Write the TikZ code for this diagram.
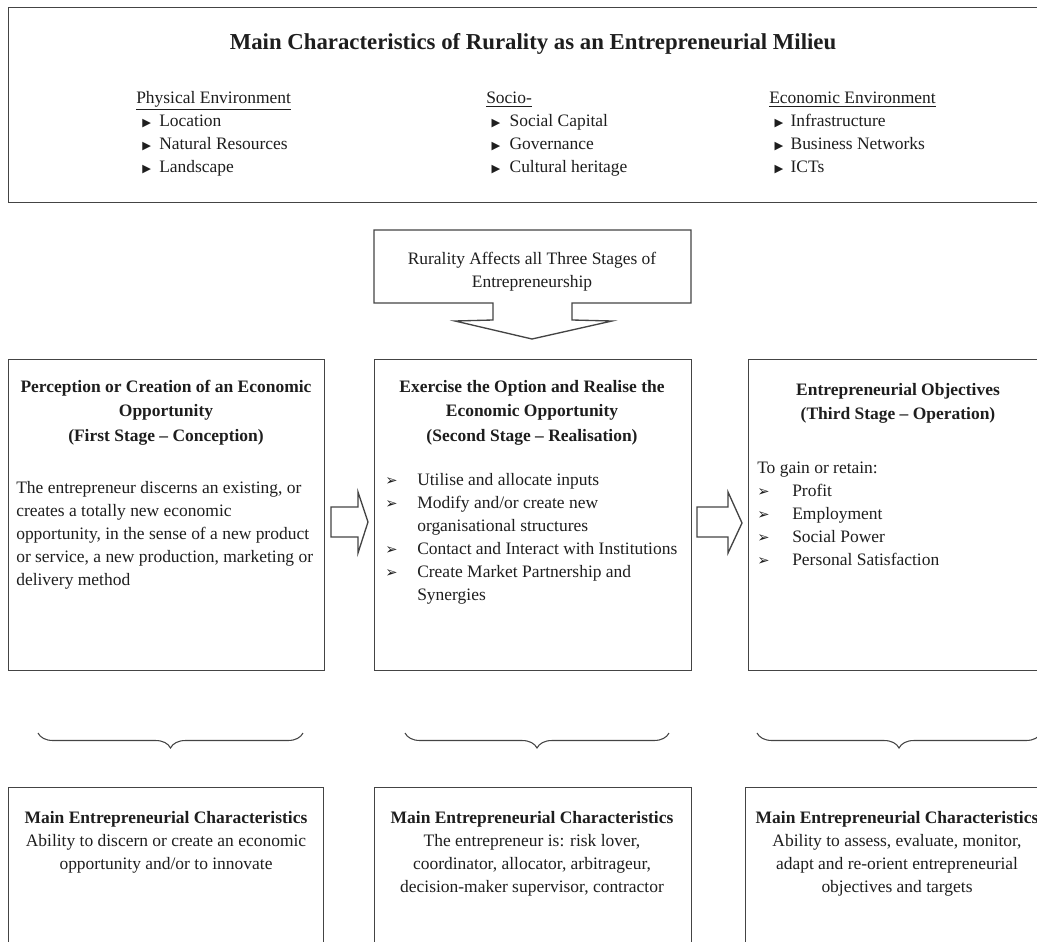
\documentclass[tikz,border=0pt]{standalone}
\usepackage{fontspec}
\setmainfont{Liberation Serif}
\newfontfamily\symfont{DejaVu Sans}
\usetikzlibrary{decorations.pathreplacing}
\newcommand\bodyfont{\fontsize{13.1pt}{17.25pt}\selectfont}
\newcommand\headfont{\fontsize{13.1pt}{18.5pt}\selectfont\bfseries}
\newcommand\bigtitlefont{\fontsize{17.1pt}{20pt}\selectfont\bfseries}
\newcommand\tbul{{\symfont\fontsize{8.5pt}{8.5pt}\selectfont ▶}}
\newcommand\abul{{\symfont\fontsize{11pt}{11pt}\selectfont ➢}}
\newcommand\lefttext[2]{\parbox[t]{#1}{\raggedright #2}}
\newcommand\midtext[2]{\parbox[t]{#1}{\centering #2}}
\definecolor{lin}{HTML}{444444}
\definecolor{txt}{HTML}{1E1E1E}
\tikzset{
  box/.style={draw=lin, line width=1pt, rectangle, inner sep=0pt, anchor=north west},
  shapeline/.style={draw=lin, line width=1pt, line join=miter},
  bracestyle/.style={draw=lin, line width=0.8pt, decorate, decoration={brace, amplitude=11.25pt}},
  txtnode/.style={inner sep=0pt, text=txt, font=\bodyfont},
}
\begin{document}
\begin{tikzpicture}[x=0.75pt, y=-0.75pt]
\useasboundingbox (0,0) rectangle (1037,941);
\clip (0,0) rectangle (1037,941);

% ---------- top box ----------
\node[box, minimum width={1060*0.75pt}, minimum height={195*0.75pt}] (top) at (8,7) {};
\node[txtnode, anchor=base, font=\bigtitlefont] (title) at (533,50)
  {Main Characteristics of Rurality as an Entrepreneurial Milieu};
\node[txtnode, anchor=base west] (col1) at (136,104) {\lefttext{150pt}{%
  \underline{Physical Environment}\\
  \hspace*{4.5pt}\makebox[12.75pt][l]{\tbul}Location\\
  \hspace*{4.5pt}\makebox[12.75pt][l]{\tbul}Natural Resources\\
  \hspace*{4.5pt}\makebox[12.75pt][l]{\tbul}Landscape}};
\node[txtnode, anchor=base west] (col2) at (486,104) {\lefttext{150pt}{%
  \underline{Socio-}\\
  \hspace*{4pt}\makebox[13.5pt][l]{\tbul}Social Capital\\
  \hspace*{4pt}\makebox[13.5pt][l]{\tbul}Governance\\
  \hspace*{4pt}\makebox[13.5pt][l]{\tbul}Cultural heritage}};
\node[txtnode, anchor=base west] (col3) at (769,104) {\lefttext{150pt}{%
  \underline{Economic Environment}\\
  \hspace*{4pt}\makebox[12pt][l]{\tbul}Infrastructure\\
  \hspace*{4pt}\makebox[12pt][l]{\tbul}Business Networks\\
  \hspace*{4pt}\makebox[12pt][l]{\tbul}ICTs}};

% ---------- callout ----------
\draw[shapeline] (374,230) -- (691,230) -- (691,303) -- (572,303) -- (572,320)
  -- (612,321) -- (532,339) -- (455,321) -- (493,320) -- (493,303) -- (374,303) -- cycle;
\node[txtnode, anchor=base] (call) at (532,264) {\midtext{240pt}{%
  Rurality Affects all Three Stages of\\ Entrepreneurship}};

% ---------- stage boxes ----------
\node[box, minimum width={316*0.75pt}, minimum height={311*0.75pt}] (s1) at (8,359) {};
\node[box, minimum width={317*0.75pt}, minimum height={311*0.75pt}] (s2) at (374,359) {};
\node[box, minimum width={316*0.75pt}, minimum height={311*0.75pt}] (s3) at (748,359) {};

\node[txtnode, anchor=base, font=\headfont] (s1h) at (166,392) {\midtext{235pt}{%
  Perception or Creation of an Economic\\ Opportunity\\ (First Stage – Conception)}};
\node[txtnode, anchor=base west] (s1b) at (16,493) {\lefttext{230pt}{%
  The entrepreneur discerns an existing, or\\
  creates a totally new economic\\
  opportunity, in the sense of a new product\\
  or service, a new production, marketing or\\
  delivery method}};

\node[txtnode, anchor=base, font=\headfont] (s2h) at (532,392) {\midtext{235pt}{%
  Exercise the Option and Realise the\\ Economic Opportunity\\ (Second Stage – Realisation)}};
\node[txtnode, anchor=base west] (s2b) at (385,485) {\lefttext{235pt}{%
  \makebox[24pt][l]{\abul}Utilise and allocate inputs\\
  \makebox[24pt][l]{\abul}Modify and/or create new\\
  \makebox[24pt][l]{}organisational structures\\
  \makebox[24pt][l]{\abul}Contact and Interact with Institutions\\
  \makebox[24pt][l]{\abul}Create Market Partnership and\\
  \makebox[24pt][l]{}Synergies}};

\node[txtnode, anchor=base, font=\headfont] (s3h) at (898,395) {\midtext{235pt}{%
  Entrepreneurial Objectives\\ (Third Stage – Operation)}};
\node[txtnode, anchor=base west] (s3b) at (757,473) {\lefttext{235pt}{%
  To gain or retain:\\
  \makebox[26.25pt][l]{\abul}Profit\\
  \makebox[26.25pt][l]{\abul}Employment\\
  \makebox[26.25pt][l]{\abul}Social Power\\
  \makebox[26.25pt][l]{\abul}Personal Satisfaction}};

% ---------- block arrows ----------
\draw[shapeline] (331,507) -- (358,507) -- (358,492) -- (368,522) -- (358,553)
  -- (358,537) -- (331,537) -- cycle;
\draw[shapeline] (697,507) -- (728,507) -- (728,492) -- (742,523) -- (728,553)
  -- (728,537) -- (697,537) -- cycle;

% ---------- braces ----------
\draw[bracestyle] (303,733) -- (38,733);
\draw[bracestyle] (669,733) -- (405,733);
\draw[bracestyle] (1041,733) -- (757,733);

% ---------- bottom boxes ----------
\node[box, minimum width={315*0.75pt}, minimum height={200*0.75pt}] (c1) at (8,787) {};
\node[box, minimum width={317*0.75pt}, minimum height={200*0.75pt}] (c2) at (374,787) {};
\node[box, minimum width={320*0.75pt}, minimum height={200*0.75pt}] (c3) at (745,787) {};

\node[txtnode, anchor=base] (c1t) at (166,823) {\midtext{240pt}{%
  \textbf{Main Entrepreneurial Characteristics}\\
  Ability to discern or create an economic\\
  opportunity and/or to innovate}};
\node[txtnode, anchor=base] (c2t) at (532,823) {\midtext{240pt}{%
  \textbf{Main Entrepreneurial Characteristics}\\
  The entrepreneur is: risk lover,\\
  coordinator, allocator, arbitrageur,\\
  decision-maker supervisor, contractor}};
\node[txtnode, anchor=base] (c3t) at (897,823) {\midtext{240pt}{%
  \textbf{Main Entrepreneurial Characteristics}\\
  Ability to assess, evaluate, monitor,\\
  adapt and re-orient entrepreneurial\\
  objectives and targets}};
\end{tikzpicture}
\end{document}
